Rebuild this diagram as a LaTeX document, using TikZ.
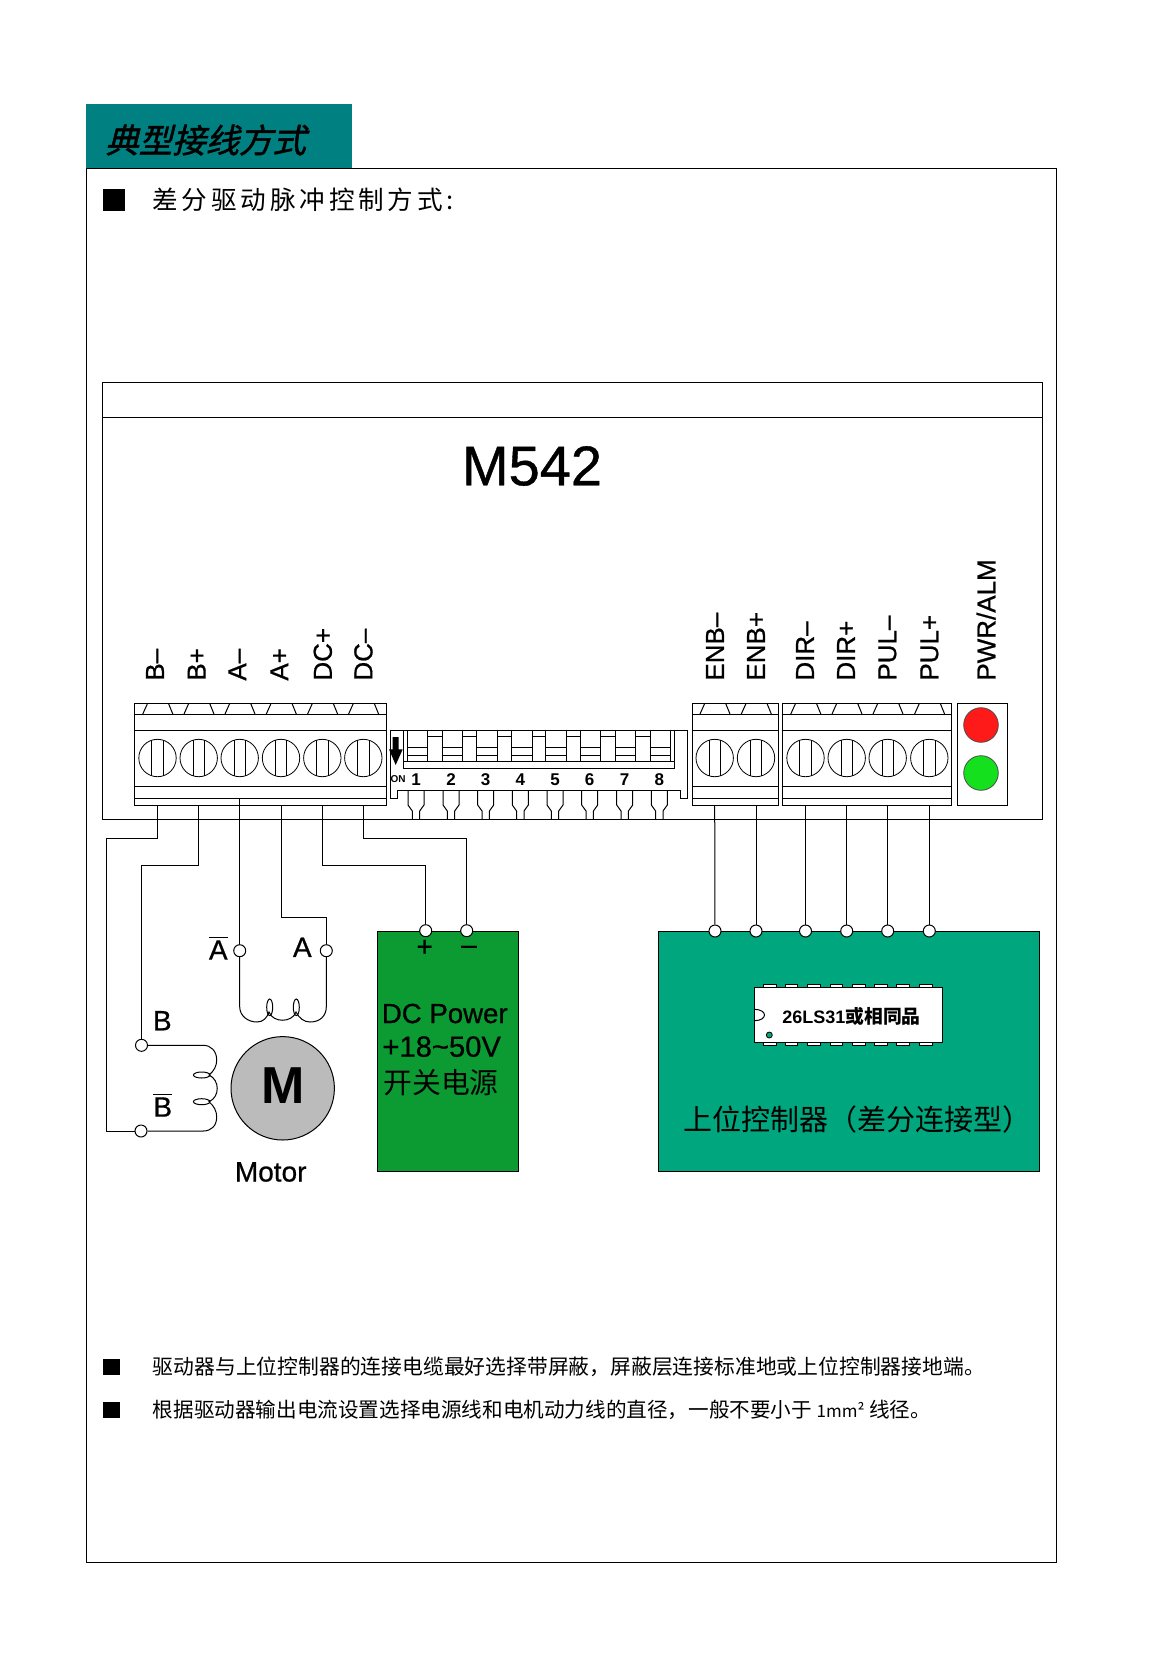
\documentclass[tikz,border=0pt]{standalone}
\usepackage{fontspec}
\setmainfont{Liberation Sans}
\newfontfamily\heavy[FakeBold=0.7]{Liberation Sans}
\newfontfamily\cjk{Noto Sans CJK SC}
\newfontfamily\cjkhead[FakeSlant=0.25,FakeBold=1.5]{Noto Sans CJK SC}
\definecolor{cTeal}{HTML}{008080}
\definecolor{cPower}{HTML}{0C9A33}
\definecolor{cBoard}{HTML}{00A67D}
\definecolor{cMotor}{HTML}{BBBBBB}
\definecolor{cLedRed}{HTML}{FF1A1A}
\definecolor{cLedGreen}{HTML}{14E01E}
\tikzset{
	part/.style={draw=black, line width=0.5pt},
	wire/.style={draw=black, line width=0.5pt},
	screw/.style={circle, draw=black, line width=0.4pt, fill=white, minimum size=18.7pt, inner sep=0pt},
	term/.style={circle, draw=black, line width=0.5pt, fill=white, minimum size=6pt, inner sep=0pt},
	pinlabel/.style={rotate=90, anchor=west, inner sep=0pt, text depth=0pt, font=\heavy\fontsize{13}{15}\selectfont},
	coillabel/.style={inner sep=0pt, font=\heavy\fontsize{14}{16}\selectfont},
	bodytext/.style={anchor=west, inner sep=0pt, font=\cjk\fontsize{10.3}{12}\selectfont},
	bulletmark/.style={anchor=west, inner sep=0pt, fill=black, minimum size=8.2pt},
	powertext/.style={anchor=base west, inner sep=0pt, font=\heavy\fontsize{13.8}{16}\selectfont},
}

\begin{document}
\begin{tikzpicture}[x=0.5pt, y=-0.5pt]
		\useasboundingbox (0,0) rectangle (1170,1654);
		
		%page frame and title
		\fill [cTeal] (86,104) rectangle (352,168);
		\draw [part] (86.5,168.5) rectangle (1056.5,1562);
		\node [anchor=west, inner sep=0pt, font=\cjkhead\fontsize{16.7}{20}\selectfont] (title) at (105,140) {典型接线方式};
		\node [anchor=west, inner sep=0pt, fill=black, minimum size=11pt] (markTop) at (103,200) {};
		\node [anchor=west, inner sep=0pt, font=\cjk\fontsize{12.8}{15}\selectfont] (subtitle) at (152,200) {\addfontfeature{LetterSpace=15}差分驱动脉冲控制方式:};
		
		%driver housing
		\draw [part] (102.5,382) rectangle (1042,819);
		\draw [part] (102.5,417) -- (1042,417);
		\node [inner sep=0pt, font=\heavy\fontsize{28}{32}\selectfont] (model) at (532,466) {M542};
		
		%terminal blocks
		\foreach \xa/\xb in {134.5/386,692.3/778.7,782.3/951.7}
		{
			\draw [part] (\xa,703.5) rectangle (\xb,805.5);
			\foreach \y in {714,730,786,798}
			{
				\draw [part] (\xa,\y) -- (\xb,\y);
			}
		}
		\foreach \n/\x in {Bm/157.5,Bp/198.7,Am/239.7,Ap/281,Dp/322.3,Dm/363.3,Em/714.7,Ep/756,Rm/805.5,Rp/846.7,Pm/887.7,Pp/929.3}
		{
			\draw [part] (\x-14.7,714) -- (\x-10,703.5);
			\draw [part] (\x+11,703.5) -- (\x+15.3,714);
			\node [screw] (s\n) at (\x,758) {};
			\draw [part] (\x-5.7,740) -- (\x-5.7,776);
			\draw [part] (\x+5.7,740) -- (\x+5.7,776);
			\coordinate (t\n) at (\x,805.5);
		}
		
		%terminal labels
		\foreach \n/\x/\t in {Bm/155/B–,Bp/196.7/B+,Am/237.3/A–,Ap/279.3/A+,Dp/322.7/DC+,Dm/363.3/DC–,Em/715/ENB–,Ep/756/ENB+,Rm/805/DIR–,Rp/846/DIR+,Pm/887.3/PUL–,Pp/929.3/PUL+,Pw/986/{PWR/ALM}}
		{
			\node [pinlabel] (l\n) at (\x,681) {\t};
		}
		
		%led window
		\draw [part] (957.3,703.5) rectangle (1007.7,805.5);
		\node [circle, draw=black!70, line width=0.4pt, fill=cLedRed, minimum size=17.3pt, inner sep=0pt] (ledRed) at (981,725) {};
		\node [circle, draw=black!70, line width=0.4pt, fill=cLedGreen, minimum size=17.3pt, inner sep=0pt] (ledGreen) at (981,773) {};
		
		%dip switch
		\draw [part] (390,730.7) -- (687,730.7) -- (687,798) -- (680,798) -- (680,790) -- (397.3,790) -- (397.3,798) -- (390,798) -- cycle;
		\draw [part] (403.3,730.7) rectangle (674.7,768.3);
		\draw [part] (403.3,761.7) -- (674.7,761.7);
		\draw [part] (407.3,736) -- (670.7,736);
		\draw [part] (407.3,730.7) -- (407.3,761.7);
		\draw [part] (670.7,730.7) -- (670.7,761.7);
		\foreach \n/\x/\c in {1/407.3/416,2/442.3/451,3/476.7/485.7,4/511.7/520.3,5/545.7/555,6/580.3/589.7,7/615.3/624.7,8/650.3/659.3}
		{
			\draw [part, fill=white] (\x,730.7) rectangle (\x+20.3,761.7);
			\draw [part] (\x,747.3) -- (\x+20.3,747.3);
			\draw [part] (\x,755) -- (\x+20.3,755);
			\node [inner sep=0pt, font=\bfseries\fontsize{8.5}{10}\selectfont] (dip\n) at (\c,779.3) {\n};
			\draw [part] (\c-8,790) -- (\c-8,805) -- (\c-3.7,811) -- (\c-3.7,819);
			\draw [part] (\c+8,790) -- (\c+8,805) -- (\c+3.7,811) -- (\c+3.7,819);
		}
		\fill (392.7,737) -- (398.7,737) -- (398.7,749.3) -- (402.7,749.3) -- (395.7,765) -- (389,749.3) -- (392.7,749.3) -- cycle;
		\node [inner sep=0pt, font=\bfseries\fontsize{5}{6}\selectfont] (dipOn) at (398,779.3) {ON};
		
		%power supply
		\node [part, fill=cPower, anchor=north west, minimum width=70.5pt, minimum height=120.2pt, inner sep=0pt] (power) at (377.3,930.7) {};
		\node [inner sep=0pt, font=\heavy\fontsize{14}{16}\selectfont] (plusMark) at (424.7,948) {+};
		\node [inner sep=0pt, font=\heavy\fontsize{14}{16}\selectfont] (minusMark) at (469,950) {–};
		\node [powertext] (powerA) at (381.5,1023) {DC Power};
		\node [powertext] (powerB) at (382,1056.7) {\fontsize{14.6}{16}\selectfont +18\textasciitilde50V};
		\node [anchor=west, inner sep=0pt, font=\cjk\fontsize{14.4}{16}\selectfont] (powerC) at (383,1083) {开关电源};
		
		%controller
		\node [part, fill=cBoard, anchor=north west, minimum width=190.5pt, minimum height=120pt, inner sep=0pt] (board) at (658.3,931) {};
		\foreach \x in {763.3,785.2,807.5,830,852.3,874.3,896.7,919.3}
		{
			\draw [part, fill=white] (\x,984.3) rectangle (\x+12.7,990);
			\draw [part, fill=white] (\x,1040) rectangle (\x+12.7,1045.3);
		}
		\node [part, fill=white, anchor=north west, minimum width=93.9pt, minimum height=27.5pt, inner sep=0pt] (chip) at (754,987.3) {};
		\draw [part] (754,1009.3) .. controls (768,1009.3) and (768,1020.7) .. (754,1020.7);
		\node [circle, draw=black, line width=0.4pt, fill=cBoard, minimum size=3pt, inner sep=0pt] (chipDot) at (769.3,1035) {};
		\node [inner sep=0pt, font=\bfseries\fontsize{9}{11}\selectfont] (chipText) at (851.5,1016) {26LS31{\cjk\fontsize{9.4}{11}\selectfont 或相同品}};
		\node [anchor=west, inner sep=0pt, font=\cjk\fontsize{14.5}{17}\selectfont] (boardText) at (683,1119) {上位控制器（差分连接型）};
		
		%motor
		\node [circle, draw=black, line width=0.5pt, fill=cMotor, minimum size=51.7pt, inner sep=0pt] (motor) at (282.7,1088.3) {};
		\node [inner sep=0pt, font=\bfseries\fontsize{26}{30}\selectfont] (motorM) at (282.7,1086) {M};
		\node [coillabel] (motorText) at (270.7,1172) {Motor};
		\node [coillabel] (labAm) at (218.3,948) {$\overline{\mbox{A}}$};
		\node [coillabel] (labAp) at (302.3,947.3) {A};
		\node [coillabel] (labBp) at (162.3,1020.7) {B};
		\node [coillabel] (labBm) at (162.7,1105) {$\overline{\mbox{B}}$};
		
		%connection points
		\foreach \n/\x/\y in {Bp/141.5/1045.3,Bm/141/1131,Am/239.7/950.7,Ap/326.3/950.7,Dp/425.7/930.7,Dm/466.7/930.7,Em/715/931,Ep/756/931,Rm/805.5/931,Rp/846.7/931,Pm/887.7/931,Pp/929.3/931}
		{
			\node [term] (n\n) at (\x,\y) {};
		}
		\coordinate (bendBm) at (106.7,838.5);
		\coordinate (bendBp) at (141.5,865);
		\coordinate (bendAp) at (326.3,917.3);
		\coordinate (bendDp) at (425.7,865);
		\coordinate (bendDm) at (466.7,838.5);
		
		%wiring to the motor and the supply
		\draw [wire] (tBm) |- (bendBm) |- (nBm);
		\draw [wire] (tBp) |- (bendBp) -- (nBp);
		\draw [wire] (tAm) -- ++(0,-7.5);
		\draw [wire] (tAm) -- (nAm);
		\draw [wire] (tAp) |- (bendAp) -- (nAp);
		\draw [wire] (tDp) |- (bendDp) -- (nDp);
		\draw [wire] (tDm) |- (bendDm) -- (nDm);
		%wiring to the controller
		\foreach \n in {Em,Ep,Rm,Rp,Pm,Pp}
		{
			\draw [wire] (t\n) -- (n\n);
		}
		
		%coil A
		\draw [wire] (nAm) -- (239.7,1006.7) .. controls (239.7,1016) and (248,1022) .. (257,1022) .. controls (263,1022) and (267,1018) .. (269,1012) .. controls (273,1023) and (292,1023) .. (296,1012) .. controls (299,1018) and (304,1022) .. (310,1022) .. controls (320,1022) and (326.3,1016) .. (326.3,1006.7) -- (nAp);
		\foreach \x in {269.7,296.3}
		{
			\draw [part] (\x,1007.3) ellipse (3 and 8.3);
		}
		%coil B
		\draw [wire] (nBp) -- (203.3,1045.3) .. controls (211,1045.3) and (216.7,1051) .. (216.7,1060) .. controls (216.7,1066) and (214,1071) .. (209,1075) .. controls (220,1080) and (220,1097) .. (209,1101.7) .. controls (214,1106) and (216.7,1111) .. (216.7,1117) .. controls (216.7,1126) and (211,1131) .. (203.3,1131) -- (nBm);
		\foreach \y in {1075,1101.7}
		{
			\draw [part] (201.7,\y) ellipse (8.3 and 3);
		}
		
		%notes
		\node [bulletmark] (markA) at (103,1367) {};
		\node [bodytext, font=\cjk\fontsize{10.4}{12}\selectfont] (noteA) at (152.5,1366.5) {驱动器与上位控制器的连接电缆最好选择带屏蔽，屏蔽层连接标准地或上位控制器接地端。};
		\node [bulletmark] (markB) at (103,1410) {};
		\node [bodytext] (noteB) at (152.5,1409.5) {根据驱动器输出电流设置选择电源线和电机动力线的直径，一般不要小于 {\fontsize{8.5}{9}\selectfont 1mm²} 线径。};
		
		\end{tikzpicture}
\end{document}
